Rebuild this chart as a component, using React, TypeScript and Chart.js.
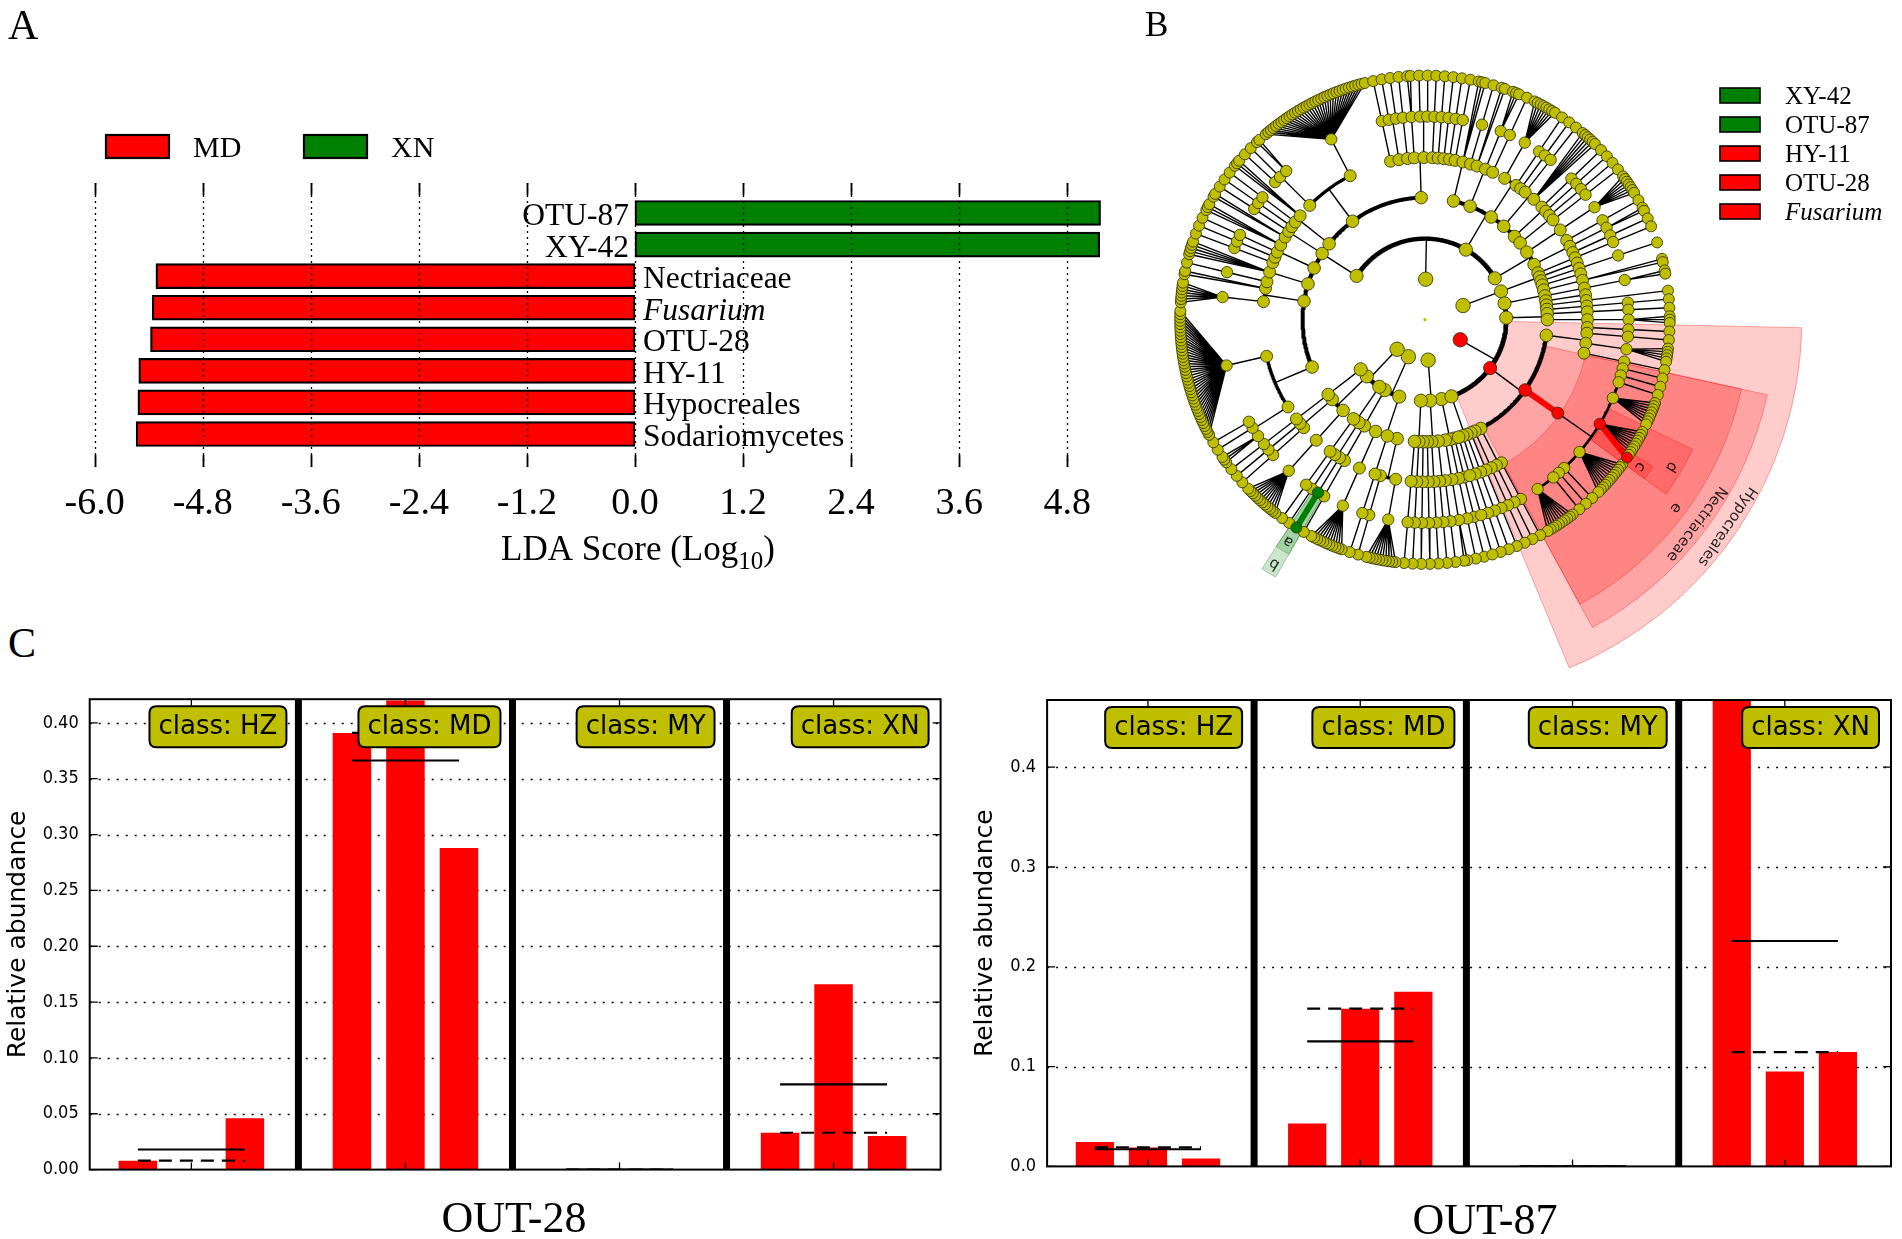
import React, { useEffect, useRef } from 'react';
import { Chart, registerables } from 'chart.js';

Chart.register(...registerables);

const SERIF = "'Liberation Serif', 'Times New Roman', Times, serif";
const SANS = "'DejaVu Sans', 'Noto Sans', sans-serif";
const SANS_NARROW = "'DejaVu Sans Condensed', 'Liberation Sans', sans-serif";

// ================= Panel A : LDA scores =================
const LDA_LABELS = ['OTU-87', 'XY-42', 'Nectriaceae', 'Fusarium', 'OTU-28', 'HY-11', 'Hypocreales', 'Sodariomycetes'];
const LDA_SCORES = [5.17, 5.16, -5.32, -5.36, -5.38, -5.51, -5.52, -5.54];
const LDA_GROUPS = ['XN', 'XN', 'MD', 'MD', 'MD', 'MD', 'MD', 'MD'];
const LDA_TICKS = [-6.0, -4.8, -3.6, -2.4, -1.2, 0.0, 1.2, 2.4, 3.6, 4.8];
const LEGEND_GROUPS = ['MD', 'XN'];
const ITALIC_TAXA = ['Fusarium'];
const CLASS_COLORS: Record<string, string> = { MD: '#ff0000', XN: '#008000' };

// ================= Panel B : cladogram =================
// number n>0 = node with n terminal children on the outer ring; 0 = terminal node;
// array = children one level deeper; {id, c} = named node
type TNode = number | TNode[] | { id: string; c: TNode };
const TREE: TNode[] = [
  // class - lower right
  [
    [[[1]], [[1]], [[2]]],
    [[[1], [1]], [[1]], [[1]]],
    [[[1]], [[1]], [[1]]],
  ],
  // class - bottom
  [
    [[[10], [1]], [[1]], [[11]]],
    [[[1]]],
  ],
  // class - lower left (OTU-87 / XY-42)
  [
    [
      [[{ id: 'OTU-87', c: [{ id: 'XY-42', c: 0 }] }], [1]],
      [[1]],
    ],
    [[[12]], [[1], [1]]],
    [[[1]]],
  ],
  // class - left and top
  [
    [
      [[3, 1, 1], [40]],
      [[7], 2],
      [[1], 5, [1]],
      [[1], [1], 3],
      [2, [1], [1]],
      [[1], 3],
      [[1, 1, 2], [35]],
      [[1], [1, 1], [1], [2], [1, 1], [1], [1], [1], [1]],
    ],
    [
      [[1], 3, [1]],
      [2, [3], [1]],
      [[8], [1], [1]],
      [[1], 6],
      [[1], [1]],
    ],
    [
      [[1], [1]],
      [[7]],
      [[1], [2], [1]],
      [[1]],
    ],
  ],
  // small class - right
  [[[0]]],
  // Sodariomycetes
  {
    id: 'Sodariomycetes',
    c: [
      [[[1]], [0], [2], [[2]], [0], [1], [[1]]],
      [[[1]], [[3]]],
      {
        id: 'Hypocreales',
        c: [
          [[1], [1], [5], [1]],
          {
            id: 'Nectriaceae',
            c: [
              {
                id: 'Fusarium',
                c: [1, 1, 1, 8, { id: 'OTU-28', c: [0, 0, 0, 0, 0, 0, 0, 0, 0, { id: 'HY-11', c: 0 }] }, 12, 1, 1, 1, 10],
              },
            ],
          },
          [[1], [1]],
          [[1]],
        ],
      },
      [[[1]], [[1]], [[1]], [[1]]],
    ],
  },
];
const SECTOR_IDS = ['Hypocreales', 'Nectriaceae', 'Fusarium', 'OTU-28', 'HY-11', 'OTU-87', 'XY-42'];
const SECTOR_TEXT = ['Hypocreales', 'Nectriaceae', 'e', 'd', 'c', 'b', 'a'];
const CLADO_LEGEND = ['XY-42', 'OTU-87', 'HY-11', 'OTU-28', 'Fusarium'];
const THICK_EDGES = [['Nectriaceae', 'Fusarium'], ['OTU-28', 'HY-11'], ['OTU-87', 'XY-42']];

// ================= Panel C : relative abundance =================
const SAMPLE_CLASSES = ['HZ', 'MD', 'MY', 'XN'];
const OUT28_HZ = [0.008, 0.0, 0.046];
const OUT28_MD = [0.391, 0.42, 0.288];
const OUT28_MY = [0.0, 0.0, 0.0];
const OUT28_XN = [0.033, 0.166, 0.030];
const OUT28_YTICKS = [0.0, 0.05, 0.10, 0.15, 0.20, 0.25, 0.30, 0.35, 0.40];
const OUT87_HZ = [0.0245, 0.019, 0.008];
const OUT87_MD = [0.043, 0.158, 0.175];
const OUT87_MY = [0.0, 0.0, 0.0];
const OUT87_XN = [0.468, 0.095, 0.1145];
const OUT87_YTICKS = [0.0, 0.1, 0.2, 0.3, 0.4];

// ---------------------------------------------------------------
function bioClass(id?: string): string | null {
  if (!id) return null;
  const i = LDA_LABELS.indexOf(id);
  return i >= 0 ? LDA_GROUPS[i] : null;
}

function makeLDA(canvas: HTMLCanvasElement) {
  const plugin = {
    id: 'ldaDecor',
    afterDatasetsDraw(chart: any) {
      const { ctx, chartArea: ca } = chart;
      const xs = chart.scales.x;
      const ys = chart.scales.y;
      ctx.save();
      ctx.strokeStyle = '#000';
      for (const v of LDA_TICKS) {
        const px = Math.round(xs.getPixelForValue(v)) + 0.5;
        ctx.setLineDash([2, 4]);
        ctx.lineWidth = 1.3;
        ctx.beginPath();
        ctx.moveTo(px, ca.top);
        ctx.lineTo(px, ca.bottom);
        ctx.stroke();
        ctx.setLineDash([]);
        ctx.lineWidth = 1.8;
        ctx.beginPath();
        ctx.moveTo(px, ca.top);
        ctx.lineTo(px, ca.top + 12);
        ctx.moveTo(px, ca.bottom - 12);
        ctx.lineTo(px, ca.bottom);
        ctx.stroke();
      }
      const x0 = xs.getPixelForValue(0);
      ctx.fillStyle = '#000';
      ctx.textBaseline = 'alphabetic';
      LDA_LABELS.forEach((lab, i) => {
        const py = ys.getPixelForValue(i);
        ctx.font = `${ITALIC_TAXA.includes(lab) ? 'italic ' : ''}31.5px ${SERIF}`;
        if (LDA_SCORES[i] > 0) {
          ctx.textAlign = 'right';
          ctx.fillText(lab, x0 - 6, py + 12);
        } else {
          ctx.textAlign = 'left';
          ctx.fillText(lab, x0 + 8, py + 12);
        }
      });
      // legend
      const legX = [106, 304];
      LEGEND_GROUPS.forEach((g, i) => {
        ctx.fillStyle = CLASS_COLORS[g];
        ctx.fillRect(legX[i], 135, 63, 23);
        ctx.lineWidth = 2.2;
        ctx.strokeStyle = '#000';
        ctx.strokeRect(legX[i], 135, 63, 23);
        ctx.fillStyle = '#000';
        ctx.font = `30px ${SERIF}`;
        ctx.textAlign = 'left';
        ctx.fillText(g, legX[i] + 87, 157);
      });
      // axis title
      const main = 'LDA Score (Log';
      ctx.font = `35px ${SERIF}`;
      const w1 = ctx.measureText(main).width;
      const w3 = ctx.measureText(')').width;
      ctx.font = `25px ${SERIF}`;
      const w2 = ctx.measureText('10').width;
      const start = 638 - (w1 + w2 + w3) / 2;
      ctx.textAlign = 'left';
      ctx.font = `35px ${SERIF}`;
      ctx.fillText(main, start, 560);
      ctx.fillText(')', start + w1 + w2, 560);
      ctx.font = `25px ${SERIF}`;
      ctx.fillText('10', start + w1, 569);
      ctx.restore();
    },
  };
  return new Chart(canvas, {
    type: 'bar',
    data: {
      datasets: [
        {
          data: LDA_SCORES.map((v, i) => ({ x: v, y: i })),
          backgroundColor: LDA_GROUPS.map((g) => CLASS_COLORS[g]),
          borderColor: '#000',
          borderWidth: 2.2,
          borderSkipped: false,
          barThickness: 25,
        } as any,
      ],
    },
    options: {
      indexAxis: 'y',
      animation: false,
      responsive: false,
      events: [],
      layout: { padding: { left: 60, right: 10, top: 183, bottom: 0 } },
      plugins: { legend: { display: false }, tooltip: { enabled: false } },
      scales: {
        x: {
          type: 'linear',
          min: -6.385,
          max: 5.608,
          bounds: 'data',
          offset: false,
          afterBuildTicks: (s: any) => {
            s.ticks = LDA_TICKS.map((v) => ({ value: v }));
          },
          afterFit: (s: any) => {
            s.height = 133;
            s.paddingLeft = 0;
            s.paddingRight = 0;
          },
          grid: { display: false, drawTicks: false },
          border: { display: false },
          ticks: {
            font: { family: SERIF, size: 38 },
            color: '#000',
            padding: 14,
            autoSkip: false,
            maxRotation: 0,
            callback: (v: any) => Number(v).toFixed(1),
          },
        },
        y: { type: 'linear', min: -0.95, max: 8.045, reverse: true, offset: false, display: false },
      },
    } as any,
    plugins: [plugin],
  });
}

// ---------------- cladogram ----------------
interface LNode {
  depth: number;
  id?: string;
  children: LNode[];
  theta: number;
  lo: number;
  hi: number;
}
const RADII = [0, 41.5, 83, 125, 166, 208, 250];
const LEAF_DEPTH = 6;
const START_ANGLE = 76;
const CLADE_GAP = 2.6;

function buildTree(spec: any, depth: number): LNode {
  let id: string | undefined;
  let body: any = spec;
  if (spec !== null && typeof spec === 'object' && !Array.isArray(spec)) {
    id = spec.id;
    body = spec.c;
  }
  const node: LNode = { depth, id, children: [], theta: 0, lo: 0, hi: 0 };
  if (typeof body === 'number') {
    for (let i = 0; i < body; i++) node.children.push({ depth: LEAF_DEPTH, children: [], theta: 0, lo: 0, hi: 0 });
  } else {
    for (const ch of body) node.children.push(buildTree(ch, depth + 1));
  }
  return node;
}

function layoutTree() {
  const root = buildTree(TREE, 0);
  const leaves: { node: LNode; parent: LNode | null }[] = [];
  const all: { node: LNode; parent: LNode | null }[] = [];
  const walk = (n: LNode, p: LNode | null) => {
    all.push({ node: n, parent: p });
    if (!n.children.length) leaves.push({ node: n, parent: p });
    n.children.forEach((c) => walk(c, n));
  };
  walk(root, null);
  const gaps = leaves.map((l, i) => {
    const prev = leaves[(i - 1 + leaves.length) % leaves.length];
    return prev.parent === l.parent ? 1 : CLADE_GAP;
  });
  const total = gaps.reduce((a, b) => a + b, 0);
  const k = 360 / total;
  let acc = 0;
  leaves.forEach((l, i) => {
    if (i > 0) acc += gaps[i];
    l.node.theta = START_ANGLE + acc * k;
  });
  const post = (n: LNode) => {
    if (n.children.length) {
      n.children.forEach(post);
      const f = n.children[0];
      const l = n.children[n.children.length - 1];
      n.theta = (f.theta + l.theta) / 2;
      n.lo = f.lo;
      n.hi = l.hi;
    } else {
      n.lo = n.theta;
      n.hi = n.theta;
    }
  };
  post(root);
  return { root, all, unit: k };
}

function pt(r: number, deg: number) {
  const a = (deg * Math.PI) / 180;
  return { x: r * Math.cos(a), y: -r * Math.sin(a) };
}

function makeClado(canvas: HTMLCanvasElement) {
  const { all, unit } = layoutTree();
  const thin: any[] = [];
  const arcs: Record<number, any[]> = { 1: [], 2: [], 3: [], 4: [] };
  const hiRed: any[] = [];
  const hiGreen: any[] = [];
  const seg = (arr: any[], pts: any[]) => {
    arr.push(...pts);
    arr.push({ x: pts[pts.length - 1].x, y: null });
  };
  const isThick = (p: LNode, c: LNode) => THICK_EDGES.some(([a, b]) => p.id === a && c.id === b);

  for (const { node: p } of all) {
    if (p.depth < 1 || !p.children.length) continue;
    const kids = p.children;
    if (p.depth >= 5 || kids.length === 1 || kids[0].depth > p.depth + 1) {
      for (const c of kids) {
        const pts = [pt(RADII[p.depth], p.theta), pt(RADII[c.depth], c.theta)];
        if (isThick(p, c)) seg(bioClass(c.id) === 'XN' ? hiGreen : hiRed, pts);
        else seg(thin, pts);
      }
    } else {
      seg(thin, [pt(RADII[p.depth], p.theta), pt(RADII[p.depth + 1], p.theta)]);
      const a0 = kids[0].theta;
      const a1 = kids[kids.length - 1].theta;
      const n = Math.max(2, Math.ceil(Math.abs(a1 - a0) / 0.5));
      const arcPts: any[] = [];
      for (let i = 0; i <= n; i++) arcPts.push(pt(RADII[p.depth + 1], a0 + ((a1 - a0) * i) / n));
      seg(arcs[p.depth], arcPts);
    }
  }

  const nodeList = all.map((a) => a.node).filter((n) => n.depth >= 1);
  nodeList.sort((a, b) => (bioClass(a.id) ? 1 : 0) - (bioClass(b.id) ? 1 : 0));
  const nodeSizes = [1.6, 7.2, 6.6, 6.3, 6, 5.7, 5.5];
  const nodeData = [{ x: 0, y: 0 }, ...nodeList.map((n) => pt(RADII[n.depth], n.theta))];
  const nodeRadius = [1.6, ...nodeList.map((n) => nodeSizes[n.depth])];
  const nodeColor = ['#bfbf00', ...nodeList.map((n) => {
    const c = bioClass(n.id);
    return c ? CLASS_COLORS[c] : '#bfbf00';
  })];
  const nodeBorder = [0, ...nodeList.map(() => 0.9)];

  const byId: Record<string, LNode> = {};
  for (const { node } of all) if (node.id) byId[node.id] = node;
  const pad = 2.0 * unit;
  const sectors = SECTOR_IDS.map((id, i) => {
    const n = byId[id];
    const cls = bioClass(id) || 'MD';
    return {
      a0: n.lo - pad,
      a1: n.hi + pad,
      r0: n.depth >= 6 ? RADII[5] + 2 : RADII[n.depth] + 2,
      r1: 250 + 27 * (7 - n.depth),
      text: SECTOR_TEXT[i],
      fill: cls === 'XN' ? 'rgba(0,128,0,0.2)' : 'rgba(255,0,0,0.2)',
      stroke: cls === 'XN' ? 'rgba(0,110,0,0.3)' : 'rgba(235,0,0,0.32)',
    };
  });
  const rad = (d: number) => (d * Math.PI) / 180;

  const plugin = {
    id: 'cladoDecor',
    beforeDatasetsDraw(chart: any) {
      const { ctx } = chart;
      const xs = chart.scales.x;
      const ys = chart.scales.y;
      const cx = xs.getPixelForValue(0);
      const cy = ys.getPixelForValue(0);
      const s = xs.getPixelForValue(1) - cx;
      ctx.save();
      for (const sec of sectors) {
        ctx.beginPath();
        ctx.arc(cx, cy, sec.r1 * s, rad(sec.a0), rad(sec.a1));
        ctx.arc(cx, cy, sec.r0 * s, rad(sec.a1), rad(sec.a0), true);
        ctx.closePath();
        ctx.fillStyle = sec.fill;
        ctx.fill();
        ctx.strokeStyle = sec.stroke;
        ctx.lineWidth = 1;
        ctx.stroke();
      }
      ctx.restore();
    },
    afterDatasetsDraw(chart: any) {
      const { ctx } = chart;
      const xs = chart.scales.x;
      const ys = chart.scales.y;
      const cx = xs.getPixelForValue(0);
      const cy = ys.getPixelForValue(0);
      const s = xs.getPixelForValue(1) - cx;
      ctx.save();
      ctx.fillStyle = 'rgba(0,0,0,0.85)';
      ctx.font = `15px ${SANS}`;
      ctx.textAlign = 'center';
      ctx.textBaseline = 'middle';
      for (const sec of sectors) {
        const m = (sec.a0 + sec.a1) / 2;
        const r = (sec.r1 - 11) * s;
        ctx.save();
        ctx.translate(cx + r * Math.cos(rad(m)), cy + r * Math.sin(rad(m)));
        ctx.rotate(rad(m + 90));
        ctx.fillText(sec.text, 0, 0);
        ctx.restore();
      }
      ctx.restore();
    },
    afterDraw(chart: any) {
      const { ctx } = chart;
      ctx.save();
      CLADO_LEGEND.forEach((lab, i) => {
        const top = 88 + i * 29;
        const cls = bioClass(lab) || 'MD';
        ctx.fillStyle = CLASS_COLORS[cls];
        ctx.fillRect(590, top, 40, 15);
        ctx.strokeStyle = '#000';
        ctx.lineWidth = 1.6;
        ctx.strokeRect(590, top, 40, 15);
        ctx.fillStyle = '#000';
        ctx.font = `${ITALIC_TAXA.includes(lab) ? 'italic ' : ''}25px ${SERIF}`;
        ctx.textAlign = 'left';
        ctx.textBaseline = 'alphabetic';
        ctx.fillText(lab, 655, top + 16);
      });
      ctx.restore();
    },
  };

  const lineDs = (data: any[], color: string, width: number, order: number) => ({
    data,
    showLine: true,
    borderColor: color,
    borderWidth: width,
    pointRadius: 0,
    spanGaps: false,
    fill: false,
    borderCapStyle: 'round',
    borderJoinStyle: 'round',
    order,
  });

  return new Chart(canvas, {
    type: 'scatter',
    data: {
      datasets: [
        {
          data: nodeData,
          pointRadius: nodeRadius,
          pointBackgroundColor: nodeColor,
          pointBorderColor: 'rgba(45,45,10,0.9)',
          pointBorderWidth: nodeBorder,
          showLine: false,
          order: 0,
        },
        lineDs(hiRed, '#ff0000', 6, 1),
        lineDs(hiGreen, '#008000', 6, 1),
        lineDs(arcs[1], '#000', 4.4, 2),
        lineDs(arcs[2], '#000', 4.0, 2),
        lineDs(arcs[3], '#000', 3.3, 2),
        lineDs(arcs[4], '#000', 2.7, 2),
        lineDs(thin, '#000', 1.4, 3),
      ] as any,
    },
    options: {
      animation: false,
      responsive: false,
      events: [],
      layout: { padding: 0 },
      plugins: { legend: { display: false }, tooltip: { enabled: false } },
      scales: {
        x: { type: 'linear', min: -293, max: 479, display: false },
        y: { type: 'linear', min: -381, max: 319, display: false },
      },
    } as any,
    plugins: [plugin],
  });
}

// ---------------- abundance panels ----------------
const SLOTS = 4;
const mean = (a: number[]) => a.reduce((s, v) => s + v, 0) / a.length;
const median = (a: number[]) => {
  const s = [...a].sort((p, q) => p - q);
  const m = Math.floor(s.length / 2);
  return s.length % 2 ? s[m] : (s[m - 1] + s[m]) / 2;
};

interface AbCfg {
  groups: number[][];
  yMax: number;
  yTicks: number[];
  decimals: number;
  title: string;
  titleX: number;
  titleY: number;
  ylabelX: number;
  areaLeft: number;
  pad: { right: number; top: number; bottom: number };
}

function makeAbundance(canvas: HTMLCanvasElement, cfg: AbCfg) {
  const bars: any[] = [];
  const means: any[] = [];
  const medians: any[] = [];
  cfg.groups.forEach((vals, g) => {
    vals.forEach((v, i) => bars.push({ x: g * SLOTS + i, y: v }));
    const x0 = g * SLOTS;
    const x1 = g * SLOTS + vals.length - 1;
    const m = mean(vals);
    const md = median(vals);
    means.push({ x: x0, y: m }, { x: x1, y: m }, { x: x1, y: null });
    medians.push({ x: x0, y: md }, { x: x1, y: md }, { x: x1, y: null });
  });

  const plugin = {
    id: 'abundDecor',
    beforeDatasetsDraw(chart: any) {
      const { ctx, chartArea: ca } = chart;
      const ys = chart.scales.y;
      ctx.save();
      ctx.strokeStyle = '#000';
      ctx.lineWidth = 1.3;
      ctx.setLineDash([2, 7]);
      for (const v of cfg.yTicks) {
        if (v <= 0) continue;
        const py = Math.round(ys.getPixelForValue(v)) + 0.5;
        ctx.beginPath();
        ctx.moveTo(ca.left, py);
        ctx.lineTo(ca.right, py);
        ctx.stroke();
      }
      ctx.restore();
    },
    afterDatasetsDraw(chart: any) {
      const { ctx, chartArea: ca } = chart;
      const xs = chart.scales.x;
      const ys = chart.scales.y;
      ctx.save();
      ctx.strokeStyle = '#000';
      // class separators
      ctx.lineWidth = 7;
      for (let g = 1; g < SAMPLE_CLASSES.length; g++) {
        const px = xs.getPixelForValue(g * SLOTS - 1);
        ctx.beginPath();
        ctx.moveTo(px, ca.top);
        ctx.lineTo(px, ca.bottom);
        ctx.stroke();
      }
      // frame
      ctx.lineWidth = 2;
      ctx.strokeRect(ca.left, ca.top, ca.right - ca.left, ca.bottom - ca.top);
      // inward ticks
      ctx.lineWidth = 1.3;
      for (const v of cfg.yTicks) {
        const py = ys.getPixelForValue(v);
        ctx.beginPath();
        ctx.moveTo(ca.left, py);
        ctx.lineTo(ca.left + 8, py);
        ctx.moveTo(ca.right, py);
        ctx.lineTo(ca.right - 8, py);
        ctx.stroke();
      }
      SAMPLE_CLASSES.forEach((_, g) => {
        const px = xs.getPixelForValue(g * SLOTS + 1);
        ctx.beginPath();
        ctx.moveTo(px, ca.bottom);
        ctx.lineTo(px, ca.bottom - 7);
        ctx.moveTo(px, ca.top);
        ctx.lineTo(px, ca.top + 7);
        ctx.stroke();
      });
      // class boxes
      ctx.font = `26px ${SANS}`;
      ctx.textAlign = 'center';
      ctx.textBaseline = 'middle';
      SAMPLE_CLASSES.forEach((cls, g) => {
        const txt = `class: ${cls}`;
        const w = ctx.measureText(txt).width + 18;
        const right = xs.getPixelForValue(g * SLOTS + 3) - 12;
        const left = right - w;
        const top = ca.top + 7;
        const h = 41;
        const r = 7;
        ctx.beginPath();
        ctx.moveTo(left + r, top);
        ctx.lineTo(right - r, top);
        ctx.quadraticCurveTo(right, top, right, top + r);
        ctx.lineTo(right, top + h - r);
        ctx.quadraticCurveTo(right, top + h, right - r, top + h);
        ctx.lineTo(left + r, top + h);
        ctx.quadraticCurveTo(left, top + h, left, top + h - r);
        ctx.lineTo(left, top + r);
        ctx.quadraticCurveTo(left, top, left + r, top);
        ctx.closePath();
        ctx.fillStyle = '#bfbf00';
        ctx.fill();
        ctx.lineWidth = 2;
        ctx.strokeStyle = '#000';
        ctx.stroke();
        ctx.fillStyle = '#000';
        ctx.fillText(txt, left + w / 2, top + h / 2 + 1);
      });
      ctx.restore();
    },
    afterDraw(chart: any) {
      const { ctx, chartArea: ca } = chart;
      ctx.save();
      ctx.fillStyle = '#000';
      ctx.translate(cfg.ylabelX, (ca.top + ca.bottom) / 2);
      ctx.rotate(-Math.PI / 2);
      ctx.font = `25px ${SANS}`;
      ctx.textAlign = 'center';
      ctx.textBaseline = 'middle';
      ctx.fillText('Relative abundance', 0, 0);
      ctx.restore();
      ctx.save();
      ctx.fillStyle = '#000';
      ctx.font = `44px ${SERIF}`;
      ctx.textAlign = 'center';
      ctx.textBaseline = 'alphabetic';
      ctx.fillText(cfg.title, cfg.titleX, cfg.titleY);
      ctx.restore();
    },
  };

  return new Chart(canvas, {
    type: 'bar',
    data: {
      datasets: [
        { type: 'line', data: means, borderColor: '#000', borderWidth: 2.2, pointRadius: 0, fill: false, spanGaps: false, order: 0 },
        { type: 'line', data: medians, borderColor: '#000', borderWidth: 2.2, borderDash: [13, 8], pointRadius: 0, fill: false, spanGaps: false, order: 0 },
        { type: 'bar', data: bars, backgroundColor: '#ff0000', barPercentage: 0.8, categoryPercentage: 1, order: 1 },
      ] as any,
    },
    options: {
      animation: false,
      responsive: false,
      events: [],
      layout: { padding: { left: 0, right: cfg.pad.right, top: cfg.pad.top, bottom: cfg.pad.bottom } },
      plugins: { legend: { display: false }, tooltip: { enabled: false } },
      scales: {
        x: { type: 'linear', min: -0.9, max: 15, offset: false, display: false },
        y: {
          type: 'linear',
          min: 0,
          max: cfg.yMax,
          offset: false,
          afterBuildTicks: (s: any) => {
            s.ticks = cfg.yTicks.map((v) => ({ value: v }));
          },
          afterFit: (s: any) => {
            s.width = cfg.areaLeft;
            s.paddingTop = 0;
            s.paddingBottom = 0;
          },
          grid: { display: false, drawTicks: false },
          border: { display: false },
          ticks: {
            font: { family: SANS_NARROW, size: 18 },
            color: '#000',
            padding: 11,
            autoSkip: false,
            callback: (v: any) => Number(v).toFixed(cfg.decimals),
          },
        },
      },
    } as any,
    plugins: [plugin],
  });
}

function ChartCanvas(props: { left: number; top: number; width: number; height: number; make: (c: HTMLCanvasElement) => Chart }) {
  const ref = useRef<HTMLCanvasElement>(null);
  useEffect(() => {
    const chart = props.make(ref.current as HTMLCanvasElement);
    return () => chart.destroy();
  }, []);
  return (
    <canvas
      ref={ref}
      width={props.width}
      height={props.height}
      style={{ position: 'absolute', left: props.left, top: props.top, width: props.width, height: props.height }}
    />
  );
}

const letter = (t: string, left: number, top: number, size: number) => (
  <div style={{ position: 'absolute', left, top, fontFamily: SERIF, fontSize: size, lineHeight: 1, color: '#000' }}>{t}</div>
);

export default function App() {
  return (
    <div style={{ position: 'absolute', left: 0, top: 0, width: 1902, height: 1239, background: '#fff', overflow: 'hidden' }}>
      <ChartCanvas left={0} top={0} width={1150} height={600} make={makeLDA} />
      <ChartCanvas left={1130} top={0} width={772} height={700} make={makeClado} />
      <ChartCanvas
        left={0}
        top={690}
        width={950}
        height={549}
        make={(c) =>
          makeAbundance(c, {
            groups: [OUT28_HZ, OUT28_MD, OUT28_MY, OUT28_XN],
            yMax: 0.4212,
            yTicks: OUT28_YTICKS,
            decimals: 2,
            title: 'OUT-28',
            titleX: 514,
            titleY: 542,
            ylabelX: 18,
            areaLeft: 89.7,
            pad: { right: 9.4, top: 9.2, bottom: 69.4 },
          })
        }
      />
      <ChartCanvas
        left={950}
        top={690}
        width={952}
        height={549}
        make={(c) =>
          makeAbundance(c, {
            groups: [OUT87_HZ, OUT87_MD, OUT87_MY, OUT87_XN],
            yMax: 0.4673,
            yTicks: OUT87_YTICKS,
            decimals: 1,
            title: 'OUT-87',
            titleX: 535,
            titleY: 544,
            ylabelX: 35,
            areaLeft: 97.1,
            pad: { right: 11, top: 10, bottom: 72.6 },
          })
        }
      />
      {letter('A', 8, 4, 42)}
      {letter('B', 1145, 7, 35)}
      {letter('C', 8, 622, 42)}
    </div>
  );
}
